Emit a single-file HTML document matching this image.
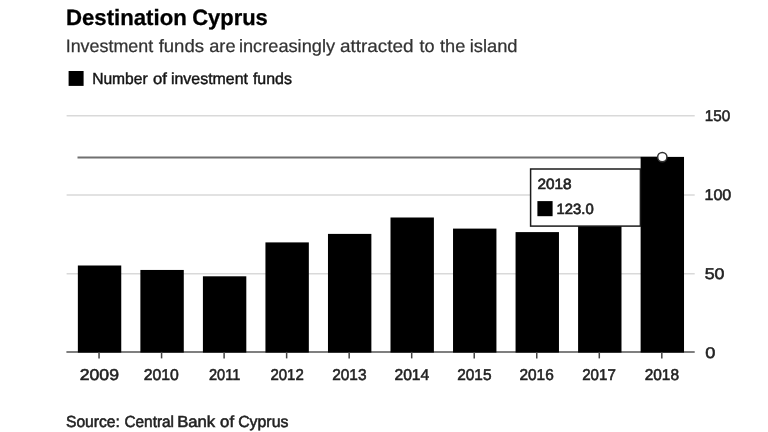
<!DOCTYPE html>
<html lang="en"><head><meta charset="utf-8"><title>Destination Cyprus</title>
<style>
html,body{margin:0;padding:0;background:#fff;}
body{width:768px;height:432px;overflow:hidden;}
svg{display:block;font-family:"Liberation Sans",Arial,Helvetica,sans-serif;}
text{text-rendering:geometricPrecision;stroke:#222;stroke-width:0.55;}
.g{stroke:#d9d9d9;stroke-width:1.6;}
.ax{stroke:#555;stroke-width:1.6;}
.tk{stroke:#444;stroke-width:1.5;}
</style></head><body>
<svg width="768" height="432" viewBox="0 0 768 432">
<rect width="768" height="432" fill="#fff"/>
<g>
<text id="title" y="25.3" font-size="22.2" font-weight="bold" fill="#000" style="stroke:#000;stroke-width:0.3"><tspan id="title_0" x="65.94" textLength="120.87" lengthAdjust="spacingAndGlyphs">Destination</tspan> <tspan id="title_1" x="192.20" textLength="75.61" lengthAdjust="spacingAndGlyphs">Cyprus</tspan></text>
<text id="sub" y="51.75" font-size="17.9" fill="#333" style="stroke:#333;stroke-width:0.25"><tspan id="sub_0" x="65.71" textLength="87.45" lengthAdjust="spacingAndGlyphs">Investment</tspan> <tspan id="sub_1" x="158.65" textLength="45.41" lengthAdjust="spacingAndGlyphs">funds</tspan> <tspan id="sub_2" x="209.24" textLength="26.27" lengthAdjust="spacingAndGlyphs">are</tspan> <tspan id="sub_3" x="238.95" textLength="96.10" lengthAdjust="spacingAndGlyphs">increasingly</tspan> <tspan id="sub_4" x="339.95" textLength="73.61" lengthAdjust="spacingAndGlyphs">attracted</tspan> <tspan id="sub_5" x="419.46" textLength="15.05" lengthAdjust="spacingAndGlyphs">to</tspan> <tspan id="sub_6" x="439.96" textLength="25.32" lengthAdjust="spacingAndGlyphs">the</tspan> <tspan id="sub_7" x="469.69" textLength="47.88" lengthAdjust="spacingAndGlyphs">island</tspan></text>
<rect x="68.6" y="71.0" width="15.0" height="14.9" fill="#000"/>
<text id="leg" y="83.7" font-size="16.0" fill="#151515" style="stroke:#151515;stroke-width:0.45"><tspan id="leg_0" x="92.16" textLength="55.49" lengthAdjust="spacingAndGlyphs">Number</tspan> <tspan id="leg_1" x="152.90" textLength="13.90" lengthAdjust="spacingAndGlyphs">of</tspan> <tspan id="leg_2" x="170.97" textLength="76.99" lengthAdjust="spacingAndGlyphs">investment</tspan> <tspan id="leg_3" x="252.93" textLength="39.02" lengthAdjust="spacingAndGlyphs">funds</tspan></text>
<line class="g" x1="66.6" x2="694.7" y1="115.75" y2="115.75"/>
<line class="g" x1="66.6" x2="694.7" y1="195.0" y2="195.0"/>
<line class="g" x1="66.6" x2="694.7" y1="273.75" y2="273.75"/>
<line x1="77.5" x2="662" y1="157.5" y2="157.5" stroke="#707070" stroke-width="1.9"/>
<line class="ax" x1="66.4" x2="694.7" y1="352.0" y2="352.0"/>
<rect x="77.85" y="265.5" width="43.4" height="87.10" fill="#000"/>
<rect x="140.38" y="269.95" width="43.4" height="82.65" fill="#000"/>
<rect x="202.91" y="276.3" width="43.4" height="76.30" fill="#000"/>
<rect x="265.44" y="242.4" width="43.4" height="110.20" fill="#000"/>
<rect x="327.97" y="233.9" width="43.4" height="118.70" fill="#000"/>
<rect x="390.50" y="217.5" width="43.4" height="135.10" fill="#000"/>
<rect x="453.03" y="228.6" width="43.4" height="124.00" fill="#000"/>
<rect x="515.56" y="232.1" width="43.4" height="120.50" fill="#000"/>
<rect x="578.09" y="222" width="43.4" height="130.60" fill="#000"/>
<rect x="640.62" y="156.9" width="43.4" height="195.70" fill="#000"/>
<line class="tk" x1="99.05" x2="99.05" y1="351.9" y2="358.4"/>
<text id="x2009" x="79.76" y="379.8" font-size="15.7" fill="#222" textLength="39.24" lengthAdjust="spacingAndGlyphs">2009</text>
<line class="tk" x1="161.58" x2="161.58" y1="351.9" y2="358.4"/>
<text id="x2010" x="143.70" y="379.8" font-size="15.7" fill="#222" textLength="35.10" lengthAdjust="spacingAndGlyphs">2010</text>
<line class="tk" x1="224.11" x2="224.11" y1="351.9" y2="358.4"/>
<text id="x2011" x="208.95" y="379.8" font-size="15.7" fill="#222" textLength="31.34" lengthAdjust="spacingAndGlyphs">2011</text>
<line class="tk" x1="286.64" x2="286.64" y1="351.9" y2="358.4"/>
<text id="x2012" x="270.45" y="379.8" font-size="15.7" fill="#222" textLength="33.35" lengthAdjust="spacingAndGlyphs">2012</text>
<line class="tk" x1="349.17" x2="349.17" y1="351.9" y2="358.4"/>
<text id="x2013" x="332.20" y="379.8" font-size="15.7" fill="#222" textLength="34.34" lengthAdjust="spacingAndGlyphs">2013</text>
<line class="tk" x1="411.70" x2="411.70" y1="351.9" y2="358.4"/>
<text id="x2014" x="394.46" y="379.8" font-size="15.7" fill="#222" textLength="34.84" lengthAdjust="spacingAndGlyphs">2014</text>
<line class="tk" x1="474.23" x2="474.23" y1="351.9" y2="358.4"/>
<text id="x2015" x="457.20" y="379.8" font-size="15.7" fill="#222" textLength="34.34" lengthAdjust="spacingAndGlyphs">2015</text>
<line class="tk" x1="536.76" x2="536.76" y1="351.9" y2="358.4"/>
<text id="x2016" x="519.46" y="379.8" font-size="15.7" fill="#222" textLength="34.34" lengthAdjust="spacingAndGlyphs">2016</text>
<line class="tk" x1="599.29" x2="599.29" y1="351.9" y2="358.4"/>
<text id="x2017" x="582.19" y="379.8" font-size="15.7" fill="#222" textLength="33.61" lengthAdjust="spacingAndGlyphs">2017</text>
<line class="tk" x1="661.82" x2="661.82" y1="351.9" y2="358.4"/>
<text id="x2018" x="644.70" y="379.8" font-size="15.7" fill="#222" textLength="34.34" lengthAdjust="spacingAndGlyphs">2018</text>
<text id="y150" x="704.69" y="120.5" font-size="15.5" fill="#222" textLength="25.52" lengthAdjust="spacingAndGlyphs">150</text>
<text id="y100" x="704.44" y="199.6" font-size="15.5" fill="#222" textLength="26.87" lengthAdjust="spacingAndGlyphs">100</text>
<text id="y50" x="704.69" y="278.6" font-size="15.5" fill="#222" textLength="19.85" lengthAdjust="spacingAndGlyphs">50</text>
<text id="y0" x="705.32" y="357.7" font-size="15.5" fill="#222" textLength="10.13" lengthAdjust="spacingAndGlyphs">0</text>
<rect x="530.6" y="169" width="109.8" height="57.1" fill="#fff" stroke="#1c1c1c" stroke-width="1.5"/>
<text id="tt1" x="537.45" y="188.7" font-size="14.8" fill="#222" style="stroke-width:0.65" textLength="34.09" lengthAdjust="spacingAndGlyphs">2018</text>
<rect x="537.4" y="201.1" width="15.2" height="15.1" fill="#000"/>
<text id="tt2" x="556.50" y="213.9" font-size="14.8" fill="#222" style="stroke-width:0.65" textLength="37.15" lengthAdjust="spacingAndGlyphs">123.0</text>
<circle cx="662.3" cy="157.1" r="4.65" fill="#fff" stroke="#333" stroke-width="1.5"/>
<text id="src" y="427.3" font-size="16.0" fill="#222"><tspan id="src_0" x="65.95" textLength="53.96" lengthAdjust="spacingAndGlyphs">Source:</tspan> <tspan id="src_1" x="124.45" textLength="49.60" lengthAdjust="spacingAndGlyphs">Central</tspan> <tspan id="src_2" x="177.18" textLength="38.03" lengthAdjust="spacingAndGlyphs">Bank</tspan> <tspan id="src_3" x="220.14" textLength="13.92" lengthAdjust="spacingAndGlyphs">of</tspan> <tspan id="src_4" x="238.18" textLength="50.23" lengthAdjust="spacingAndGlyphs">Cyprus</tspan></text>
</g>
</svg>
</body></html>
